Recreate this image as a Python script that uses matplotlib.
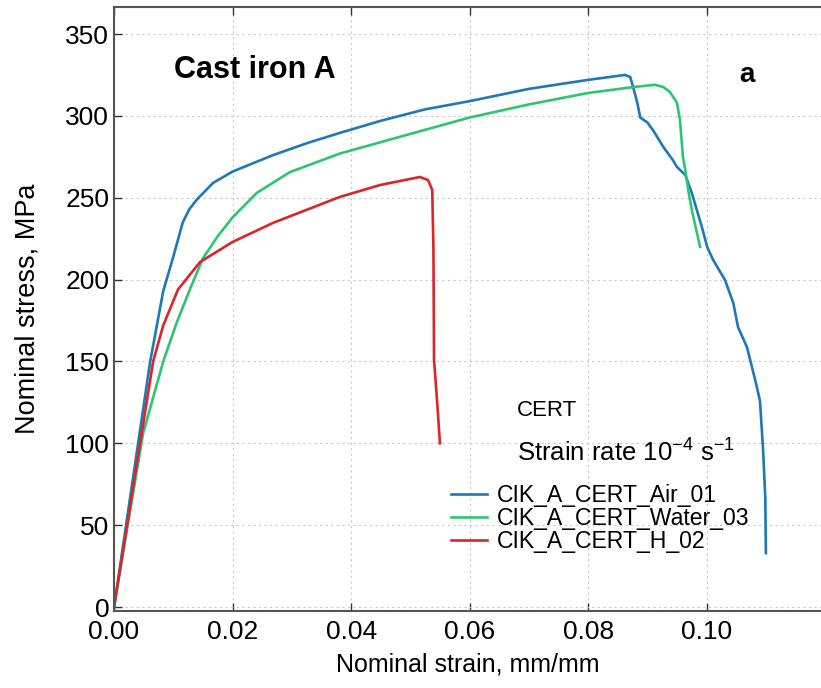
"""
Curvas tension-deformacion nominal (CERT) de la fundicion A
"""
import matplotlib
import matplotlib.pyplot as plt

matplotlib.use("Agg")

# deformacion nominal (mm/mm) y tension nominal (MPa)
air_strain = [0, 0.0039, 0.0061, 0.0083, 0.0100, 0.0116, 0.0127, 0.0140,
              0.0167, 0.0200, 0.0268, 0.0326, 0.0381, 0.0450, 0.0525, 0.0600,
              0.0700, 0.0800, 0.0862, 0.0871, 0.0876, 0.0883, 0.0888, 0.0900,
              0.0910, 0.0927, 0.0943, 0.0950, 0.0964, 0.0975, 0.0992, 0.1001,
              0.1011, 0.1031, 0.1045, 0.1053, 0.1068, 0.1082, 0.1090, 0.1095,
              0.1099, 0.1100]
air_stress = [0, 96, 150, 193, 214, 235, 243, 249,
              259, 266, 276, 283.4, 289.6, 297, 304, 309,
              316.5, 322, 325, 323.8, 317.6, 308, 299, 296,
              291, 281, 273, 268.8, 263.9, 252.9, 232.1, 219.9,
              212, 199.8, 185.7, 171, 158.8, 138.7, 126, 97.7,
              67, 33]

water_strain = [0, 0.0049, 0.0083, 0.0105, 0.0128, 0.0150, 0.0174, 0.0200,
                0.0241, 0.0297, 0.0381, 0.0500, 0.0600, 0.0700, 0.0800,
                0.0876, 0.0913, 0.0927, 0.0938, 0.0950, 0.0955, 0.0960,
                0.0964, 0.0969, 0.0975, 0.0989]
water_stress = [0, 106, 150, 173, 194, 213, 226, 238,
                253, 265.7, 277, 289, 299, 307, 314,
                317.6, 319, 317.6, 314.6, 308, 297.5, 275,
                267, 254.7, 242.5, 220]

h_strain = [0, 0.0044, 0.0066, 0.0083, 0.0108, 0.0145, 0.0200, 0.0268,
            0.0381, 0.0449, 0.0500, 0.0516, 0.0530, 0.0537, 0.0539, 0.0540,
            0.0545, 0.0550]
h_stress = [0, 100, 150, 172, 194, 210.7, 223, 234.6,
            250.5, 257.8, 261.5, 262.7, 260.8, 254.7, 218, 151,
            126.5, 100]

series_labels = ["CIK_A_CERT_Air_01", "CIK_A_CERT_Water_03", "CIK_A_CERT_H_02"]
series_colors = ["#1f78b8", "#2ec474", "#d8262a"]

x_ticks = [0.00, 0.02, 0.04, 0.06, 0.08, 0.10]
y_ticks = [0, 50, 100, 150, 200, 250, 300, 350]

plt.rcParams["font.family"] = ["Liberation Sans", "DejaVu Sans"]
plt.rcParams["mathtext.default"] = "regular"

fig = plt.figure(figsize=(8.21, 6.88), dpi=100)
ax = fig.add_axes([0.1389, 0.1119, 0.8611, 0.8779])

datos = [(air_strain, air_stress), (water_strain, water_stress),
         (h_strain, h_stress)]
for (x, y), label, color in zip(datos, series_labels, series_colors):
    ax.plot(x, y, color=color, lw=1.9, label=label, solid_joinstyle="round")

ax.set_xlim(0, 0.1193)
ax.set_ylim(-2.4, 366.5)
ax.set_xticks(x_ticks)
ax.set_xticklabels([f"{t:.2f}" for t in x_ticks])
ax.set_yticks(y_ticks)
ax.tick_params(direction="in", labelsize=19, length=6, width=1,
               top=True, color="#333333")
ax.tick_params(axis="x", pad=6.5)
ax.grid(True, ls=(0, (2, 3)), color="#c8c8c8", lw=0.8)
for lado in ["left", "bottom", "top"]:
    ax.spines[lado].set_color("#555555")
    ax.spines[lado].set_linewidth(1.5)
ax.spines["right"].set_visible(False)

ax.set_xlabel("Nominal strain, mm/mm", fontsize=18, labelpad=6)
ax.set_ylabel("Nominal stress, MPa", fontsize=19.5, labelpad=18)

ax.text(0.0102, 328, "Cast iron A", fontsize=22, fontweight="bold",
        va="center")
ax.text(0.1055, 325, "a", fontsize=20, fontweight="bold", va="center")
ax.text(0.068, 120, "CERT", fontsize=16, va="center")
ax.text(0.068, 94, "Strain rate 10$^{-4}$ s$^{-1}$", fontsize=18.5,
        va="center")

ax.legend(loc="upper left", bbox_to_anchor=(0.477, 0.211), frameon=False,
          fontsize=16.6, handlelength=1.55, handletextpad=0.45,
          labelspacing=0.0, borderpad=0, borderaxespad=0)

fig.savefig("out.png", dpi=100)
